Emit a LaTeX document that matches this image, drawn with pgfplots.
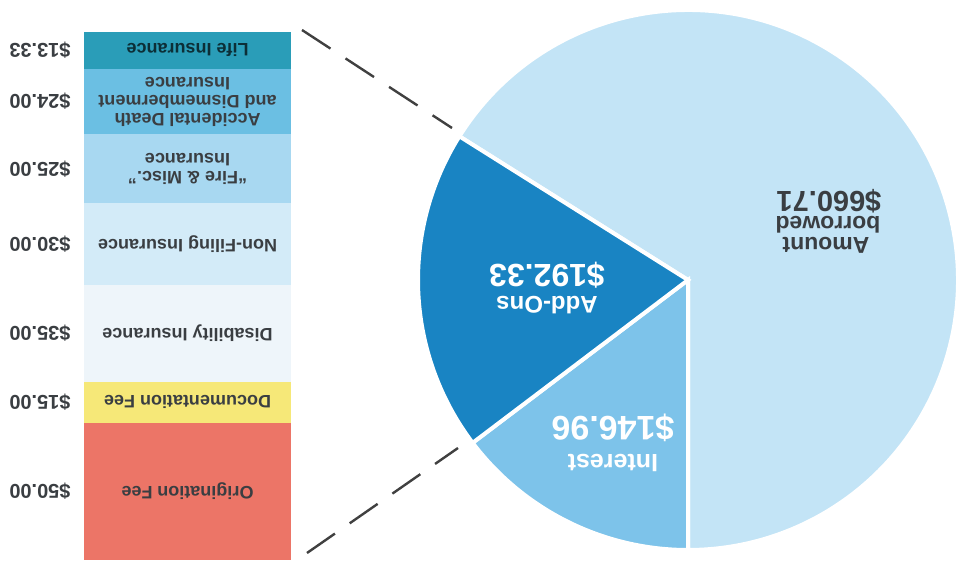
\documentclass[border=0pt]{standalone}
\usepackage{pgfplots}
\pgfplotsset{compat=1.18}
\usepackage{fontspec}
\setmainfont{Liberation Sans}
\definecolor{amountc}{HTML}{C3E4F6}
\definecolor{interestc}{HTML}{7DC3EA}
\definecolor{addonsc}{HTML}{1984C3}
\definecolor{lifec}{HTML}{2A9DB8}
\definecolor{addc}{HTML}{6BBFE3}
\definecolor{firec}{HTML}{A8D8F1}
\definecolor{nonfilc}{HTML}{D3EBF8}
\definecolor{disabc}{HTML}{EEF5FA}
\definecolor{docc}{HTML}{F6E878}
\definecolor{origc}{HTML}{EC7567}
\definecolor{txt}{HTML}{3A3E42}
\tikzset{
  pl/.style={rotate=180, inner sep=0pt},
  bl/.style={rotate=180, inner sep=0pt, text=txt, align=center, font=\bfseries\fontsize{9}{9}\selectfont},
  vl/.style={rotate=180, inner sep=0pt, anchor=west, text=txt, font=\bfseries\fontsize{10}{12}\selectfont},
}
\pgfplotsset{baraxis/.style={at={(42pt,1.5pt)}, anchor=south west, scale only axis,
  width=103.5pt, height=264pt, xmin=0, xmax=1, ymin=0, ymax=192.33,
  hide axis, clip=false}}
% pie values
\def\vAmount{660.71}
\def\vInterest{146.96}
\def\vAddons{192.33}
\begin{document}
\begin{tikzpicture}
\pgfmathsetmacro\tot{\vAmount+\vInterest+\vAddons}
\pgfmathsetmacro\aA{270}
\pgfmathsetmacro\aB{\aA-360*(\vInterest/\tot)}
\pgfmathsetmacro\aC{\aB-360*(\vAddons/\tot)}
\pgfmathsetmacro\aD{\aC-360*(\vAmount/\tot)}
% ---------- stacked bar of the add-ons ----------
\begin{axis}[baraxis, ybar stacked, bar width=1]
  \addplot[fill=origc, draw=none] coordinates {(0.5,50)};
  \addplot[fill=docc, draw=none] coordinates {(0.5,15)};
  \addplot[fill=disabc, draw=none] coordinates {(0.5,35)};
  \addplot[fill=nonfilc, draw=none] coordinates {(0.5,30)};
  \addplot[fill=firec, draw=none] coordinates {(0.5,25)};
  \addplot[fill=addc, draw=none] coordinates {(0.5,24)};
  \addplot[fill=lifec, draw=none] coordinates {(0.5,13.33)};
\end{axis}
% ---------- labels of the bar ----------
\begin{axis}[baraxis]
  \node[bl] at (axis cs:0.5,25) {Origination Fee};
  \node[bl] at (axis cs:0.5,57.5) {Documentation Fee};
  \node[bl] at (axis cs:0.5,82.5) {Disability Insurance};
  \node[bl] at (axis cs:0.5,115) {Non-Filing Insurance};
  \node[bl] at (axis cs:0.5,142.5) {``Fire \& Misc.''\\Insurance};
  \node[bl] at (axis cs:0.5,167) {Accidental Death\\and Dismemberment\\Insurance};
  \node[bl, text=black!70!lifec] at (axis cs:0.5,185.7) {Life Insurance};
  \node[vl] at (axis cs:-0.063,25) {\$50.00};
  \node[vl] at (axis cs:-0.063,57.5) {\$15.00};
  \node[vl] at (axis cs:-0.063,82.5) {\$35.00};
  \node[vl] at (axis cs:-0.063,115) {\$30.00};
  \node[vl] at (axis cs:-0.063,142.5) {\$25.00};
  \node[vl] at (axis cs:-0.063,167) {\$24.00};
  \node[vl] at (axis cs:-0.063,185.7) {\$13.33};
\end{axis}
% ---------- pie axis (pixel units, 1 unit = 0.5pt) ----------
\begin{axis}[at={(0pt,0pt)}, anchor=south west, scale only axis,
  width=480pt, height=281.5pt, xmin=0, xmax=960, ymin=0, ymax=563,
  hide axis, clip=false]
  \filldraw[fill=amountc, draw=white, line width=2pt] (axis cs:688,283) -- ++(\aC:135pt) arc[start angle=\aC, end angle=\aD, radius=135pt] -- cycle;
  \filldraw[fill=interestc, draw=white, line width=2pt] (axis cs:688,283) -- ++(\aA:135pt) arc[start angle=\aA, end angle=\aB, radius=135pt] -- cycle;
  \filldraw[fill=addonsc, draw=white, line width=2pt] (axis cs:688,283) -- ++(\aB:135pt) arc[start angle=\aB, end angle=\aC, radius=135pt] -- cycle;
  \addplot[draw=black!75, line width=1.2pt, dash pattern=on 17pt off 9pt] coordinates {(302,533) (452,435)};
  \addplot[draw=black!75, line width=1.2pt, dash pattern=on 17pt off 9pt] coordinates {(307,10) (458,115)};
  \node[pl, text=txt, font=\bfseries\fontsize{11.5}{13}\selectfont] at (axis cs:826,318) {Amount};
  \node[pl, text=txt, font=\bfseries\fontsize{11.5}{13}\selectfont] at (axis cs:828,338) {borrowed};
  \node[pl, text=txt, font=\bfseries\fontsize{14.5}{16}\selectfont] at (axis cs:829,362) {\$660.71};
  \node[pl, text=white, font=\bfseries\fontsize{12}{14}\selectfont] at (axis cs:547,258) {Add-Ons};
  \node[pl, text=white, font=\bfseries\fontsize{16}{18}\selectfont] at (axis cs:547,288) {\$192.33};
  \node[pl, text=white, font=\bfseries\fontsize{12.5}{14}\selectfont] at (axis cs:613,100) {Interest};
  \node[pl, text=white, font=\bfseries\fontsize{17}{19}\selectfont] at (axis cs:613,135) {\$146.96};
\end{axis}
\pgfresetboundingbox
\path (0pt,0pt) rectangle (480pt,281.5pt);
\end{tikzpicture}
\end{document}
